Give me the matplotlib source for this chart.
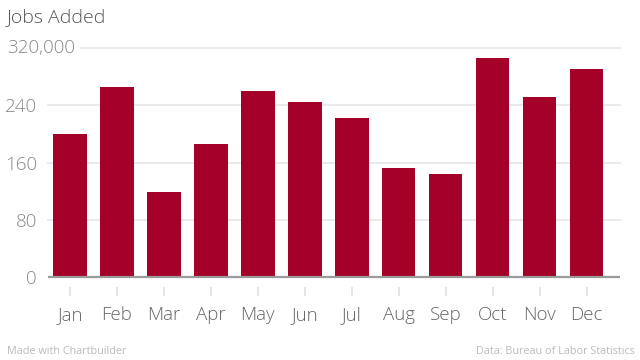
import matplotlib
matplotlib.use("Agg")
import matplotlib.pyplot as plt
from matplotlib.transforms import blended_transform_factory

months = ["Jan", "Feb", "Mar", "Apr", "May", "Jun", "Jul", "Aug", "Sep", "Oct", "Nov", "Dec"]
jobs = [200000, 265000, 119000, 186000, 260000, 244000, 222000, 152000, 144000, 306000, 251000, 291000]
ytick_vals = [0, 80000, 160000, 240000, 320000]
ytick_labels = ["0", "80", "160", "240", "320,000"]

FONT = "Open Sans"
plt.rcParams["font.family"] = [FONT, "DejaVu Sans"]

W, H = 640, 360
fig = plt.figure(figsize=(6.4, 3.6), dpi=100)
fig.patch.set_facecolor("white")

ax_left, ax_right, ax_top, ax_bot = 48, 620, 48, 287
ax = fig.add_axes([ax_left / W, 1 - ax_bot / H, (ax_right - ax_left) / W, (ax_bot - ax_top) / H])

x = list(range(len(months)))
ax.bar(x, jobs, width=0.71, color="#A50028", zorder=3)

ax.set_xlim(-0.468, 11.709)
ax.set_ylim(-13660, 320000)

# gridlines
for v in ytick_vals[1:]:
    xmin = (81 - 48) / 572 if v == 320000 else 0
    ax.axhline(v, xmin=xmin, xmax=1, color="#e6e6e6", lw=1.2, zorder=1, clip_on=False)
ax.axhline(0, color="#9a9a9a", lw=1.6, zorder=4)

for s in ax.spines.values():
    s.set_visible(False)

ax.set_xticks(x)
ax.set_xticklabels(months, fontsize=13.5, color="#666666", fontweight="light")
ax.tick_params(axis="x", length=6.5, width=1.2, color="#e0e0e0", pad=7)

ax.set_yticks(ytick_vals[:-1])
ax.set_yticklabels(ytick_labels[:-1], fontsize=13.5, color="#888888", fontweight="light")
ax.tick_params(axis="y", length=0, pad=8)
trans = blended_transform_factory(ax.transAxes, ax.transData)
ax.text((7 - 48) / 572, ytick_vals[-1], ytick_labels[-1], transform=trans, ha="left", va="center",
        fontsize=13.5, color="#888888", fontweight="light")

fig.text(7 / W, 1 - 17 / H, "Jobs Added", ha="left", va="center", fontsize=14, color="#555555", fontweight="light")
fig.text(7 / W, 1 - 352 / H, "Made with Chartbuilder", ha="left", va="center", fontsize=7.8, color="#bbbbbb")
fig.text(635 / W, 1 - 352 / H, "Data: Bureau of Labor Statistics", ha="right", va="center", fontsize=7.8, color="#bbbbbb")

fig.savefig("out.png", dpi=100, facecolor="white")
